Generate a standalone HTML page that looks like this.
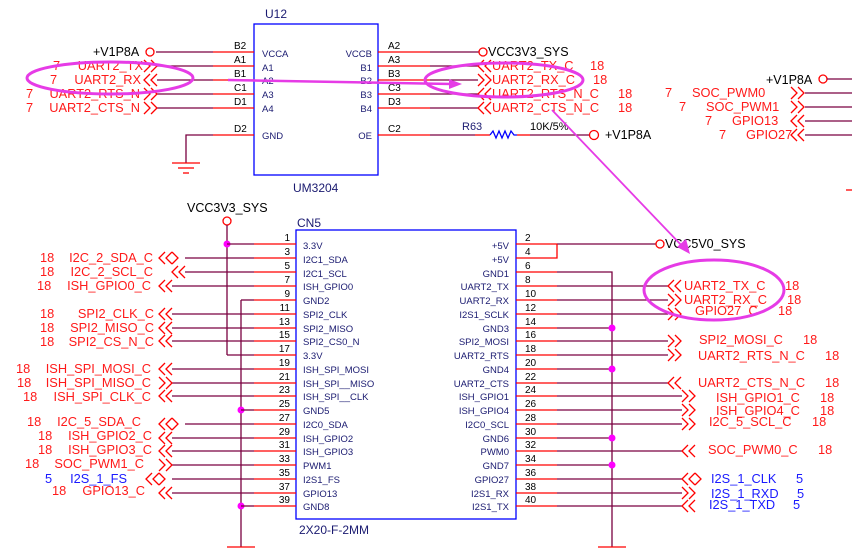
<!DOCTYPE html>
<html><head><meta charset="utf-8"><style>
html,body{margin:0;padding:0;background:#fff;width:852px;height:549px;overflow:hidden}
svg{display:block}
.w{stroke:#7a0040;stroke-width:1.3;fill:none}
.p{stroke:#ff0000;stroke-width:1.3;fill:none}
.c{stroke:#ff0000;stroke-width:1.3;fill:none}
.nr{fill:#ff1a1a;font-family:"Liberation Sans",sans-serif;font-size:12.8px}
.nb{fill:#1a1aff;font-family:"Liberation Sans",sans-serif;font-size:12.8px}
.k{fill:#000;font-family:"Liberation Sans",sans-serif;font-size:12.5px}
.pn{fill:#000;font-family:"Liberation Sans",sans-serif;font-size:10px}
.nm{fill:#1a1a70;font-family:"Liberation Sans",sans-serif;font-size:9.5px}
.bt{fill:#1a1a70;font-family:"Liberation Sans",sans-serif;font-size:12px}
.mg{stroke:#e63be6;fill:none}
</style></head><body>
<svg width="852" height="549" viewBox="0 0 852 549" xmlns="http://www.w3.org/2000/svg">
<defs>
<g id="L"><polyline class="c" points="6,-6 0,0 6,6"/><polyline class="c" points="13,-6 7,0 13,6"/></g>
<g id="R"><polyline class="c" points="0,-6 6,0 0,6"/><polyline class="c" points="7,-6 13,0 7,6"/></g>
<g id="B"><polyline class="c" points="6,-6 0,0 6,6"/><polyline class="c" points="13,-6 7,0 13,6"/><polyline class="c" points="13,-6 19,0 13,6"/></g>
</defs>

<!-- ===== U12 ===== -->
<text x="265" y="18" class="bt">U12</text>
<rect x="254" y="24" width="124" height="151" fill="none" stroke="#0000ff" stroke-width="1.3"/>
<text x="293" y="192" class="bt">UM3204</text>
<g>
<line class="w" x1="156" y1="52" x2="213" y2="52"/><line class="p" x1="213" y1="52" x2="254" y2="52"/>
<line class="w" x1="157" y1="66" x2="213" y2="66"/><line class="p" x1="213" y1="66" x2="254" y2="66"/>
<line class="w" x1="157" y1="80" x2="213" y2="80"/><line class="p" x1="213" y1="80" x2="254" y2="80"/>
<line class="w" x1="157" y1="94" x2="213" y2="94"/><line class="p" x1="213" y1="94" x2="254" y2="94"/>
<line class="w" x1="157" y1="108" x2="213" y2="108"/><line class="p" x1="213" y1="108" x2="254" y2="108"/>
<polyline class="w" points="186,163 186,135 213,135"/><line class="p" x1="213" y1="135" x2="254" y2="135"/>
<line class="p" x1="172" y1="163" x2="200" y2="163"/><line class="p" x1="178" y1="168" x2="194" y2="168"/><line class="p" x1="183" y1="173" x2="189" y2="173"/>
</g>
<text x="234" y="49" class="pn">B2</text><text x="234" y="63" class="pn">A1</text><text x="234" y="77" class="pn">B1</text>
<text x="234" y="91" class="pn">C1</text><text x="234" y="105" class="pn">D1</text><text x="234" y="132" class="pn">D2</text>
<text x="262" y="57" class="nm">VCCA</text><text x="262" y="71" class="nm">A1</text><text x="262" y="84" class="nm">A2</text>
<text x="262" y="98" class="nm">A3</text><text x="262" y="112" class="nm">A4</text><text x="262" y="139" class="nm">GND</text>
<text x="372" y="57" class="nm" text-anchor="end">VCCB</text><text x="372" y="71" class="nm" text-anchor="end">B1</text>
<text x="372" y="84" class="nm" text-anchor="end">B2</text><text x="372" y="98" class="nm" text-anchor="end">B3</text>
<text x="372" y="112" class="nm" text-anchor="end">B4</text><text x="372" y="139" class="nm" text-anchor="end">OE</text>
<text x="388" y="49" class="pn">A2</text><text x="388" y="63" class="pn">A3</text><text x="388" y="77" class="pn">B3</text>
<text x="388" y="91" class="pn">C3</text><text x="388" y="105" class="pn">D3</text><text x="388" y="132" class="pn">C2</text>
<line class="p" x1="378" y1="52" x2="430" y2="52"/><line class="w" x1="430" y1="52" x2="479" y2="52"/>
<line class="p" x1="378" y1="66" x2="430" y2="66"/><line class="w" x1="430" y1="66" x2="478" y2="66"/>
<line class="p" x1="378" y1="80" x2="430" y2="80"/><line class="w" x1="430" y1="80" x2="478" y2="80"/>
<line class="p" x1="378" y1="94" x2="430" y2="94"/><line class="w" x1="430" y1="94" x2="478" y2="94"/>
<line class="p" x1="378" y1="108" x2="430" y2="108"/><line class="w" x1="430" y1="108" x2="478" y2="108"/>
<line class="p" x1="378" y1="135" x2="430" y2="135"/><line class="w" x1="430" y1="135" x2="475" y2="135"/>
<line class="p" x1="475" y1="135" x2="490" y2="135"/>
<polyline points="490,135 493,131 496,138 499,131 502,138 505,131 508,138 511,131 514,135 517,135" fill="none" stroke="#0000ff" stroke-width="1.3"/>
<line class="p" x1="517" y1="135" x2="530" y2="135"/><line class="w" x1="530" y1="135" x2="589" y2="135"/>
<circle cx="594" cy="135" r="4.5" fill="none" stroke="#ff0000" stroke-width="1.3"/>
<text x="462" y="130" class="bt" style="font-size:11px">R63</text>
<text x="530" y="130" class="k" style="font-size:11px">10K/5%</text>
<text x="605" y="139" class="k">+V1P8A</text>
<circle cx="483" cy="52" r="4" fill="none" stroke="#ff0000" stroke-width="1.3"/>
<text x="488" y="56" class="k">VCC3V3_SYS</text>
<use href="#L" x="478" y="66"/><use href="#R" x="478" y="80"/><use href="#L" x="478" y="94"/><use href="#L" x="478" y="108"/>
<text x="492" y="70" class="nr">UART2_TX_C</text><text x="590" y="70" class="nr">18</text>
<text x="492" y="84" class="nr">UART2_RX_C</text><text x="593" y="84" class="nr">18</text>
<text x="492" y="98" class="nr">UART2_RTS_N_C</text><text x="618" y="98" class="nr">18</text>
<text x="492" y="112" class="nr">UART2_CTS_N_C</text><text x="618" y="112" class="nr">18</text>
<circle cx="150" cy="52" r="4" fill="none" stroke="#ff0000" stroke-width="1.3"/>
<text x="93" y="56" class="k">+V1P8A</text>
<use href="#R" x="144" y="66"/><use href="#L" x="144" y="80"/><use href="#R" x="144" y="94"/><use href="#R" x="144" y="108"/>
<text x="53" y="70" class="nr">7</text><text x="143" y="70" class="nr" text-anchor="end">UART2_TX</text>
<text x="50" y="84" class="nr">7</text><text x="141" y="84" class="nr" text-anchor="end">UART2_RX</text>
<text x="26" y="98" class="nr">7</text><text x="140" y="98" class="nr" text-anchor="end">UART2_RTS_N</text>
<text x="26" y="112" class="nr">7</text><text x="140" y="112" class="nr" text-anchor="end">UART2_CTS_N</text>
<text x="766" y="84" class="k">+V1P8A</text>
<circle cx="823" cy="79" r="4" fill="none" stroke="#ff0000" stroke-width="1.3"/>
<line class="w" x1="827" y1="79" x2="852" y2="79"/>
<use href="#R" x="791" y="93"/><use href="#R" x="791" y="107"/><use href="#L" x="791" y="121"/><use href="#L" x="791" y="135"/>
<line class="w" x1="805" y1="93" x2="852" y2="93"/><line class="w" x1="805" y1="107" x2="852" y2="107"/>
<line class="w" x1="805" y1="121" x2="852" y2="121"/><line class="w" x1="805" y1="135" x2="852" y2="135"/>
<text x="665" y="97" class="nr">7</text><text x="692" y="97" class="nr">SOC_PWM0</text>
<text x="679" y="111" class="nr">7</text><text x="706" y="111" class="nr">SOC_PWM1</text>
<text x="705" y="125" class="nr">7</text><text x="732" y="125" class="nr">GPIO13</text>
<text x="719" y="139" class="nr">7</text><text x="746" y="139" class="nr">GPIO27</text>
<line class="p" x1="846" y1="190" x2="852" y2="190"/>

<!-- ===== CN5 ===== -->
<text x="297" y="227" class="bt">CN5</text>
<rect x="296" y="230" width="220" height="289" fill="none" stroke="#0000ff" stroke-width="1.3"/>
<text x="299" y="534" class="bt">2X20-F-2MM</text>
<text x="187" y="212" class="k">VCC3V3_SYS</text>
<circle cx="227" cy="221" r="4" fill="none" stroke="#ff0000" stroke-width="1.3"/>
<line class="w" x1="227" y1="225" x2="227" y2="355"/>
<line class="w" x1="241" y1="300" x2="241" y2="547"/>
<line class="p" x1="227" y1="547" x2="255" y2="547"/>
<circle cx="227" cy="244" r="3.5" fill="#ff00ff"/><circle cx="241" cy="410" r="3.5" fill="#ff00ff"/><circle cx="241" cy="506" r="3.5" fill="#ff00ff"/>
<g>
<line class="w" x1="227" y1="244" x2="254" y2="244"/>
<line class="w" x1="185" y1="258" x2="254" y2="258"/>
<line class="w" x1="185" y1="272" x2="254" y2="272"/>
<line class="w" x1="172" y1="286" x2="254" y2="286"/>
<line class="w" x1="241" y1="300" x2="254" y2="300"/>
<line class="w" x1="172" y1="314" x2="254" y2="314"/>
<line class="w" x1="172" y1="328" x2="254" y2="328"/>
<line class="w" x1="172" y1="341" x2="254" y2="341"/>
<line class="w" x1="227" y1="355" x2="254" y2="355"/>
<line class="w" x1="172" y1="369" x2="254" y2="369"/>
<line class="w" x1="172" y1="383" x2="254" y2="383"/>
<line class="w" x1="172" y1="396" x2="254" y2="396"/>
<line class="w" x1="241" y1="410" x2="254" y2="410"/>
<line class="w" x1="185" y1="424" x2="254" y2="424"/>
<line class="w" x1="172" y1="438" x2="254" y2="438"/>
<line class="w" x1="172" y1="451" x2="254" y2="451"/>
<line class="w" x1="172" y1="465" x2="254" y2="465"/>
<line class="w" x1="172" y1="479" x2="254" y2="479"/>
<line class="w" x1="172" y1="493" x2="254" y2="493"/>
<line class="w" x1="241" y1="506" x2="254" y2="506"/>
</g>
<g>
<line class="p" x1="254" y1="244" x2="296" y2="244"/><line class="p" x1="254" y1="258" x2="296" y2="258"/>
<line class="p" x1="254" y1="272" x2="296" y2="272"/><line class="p" x1="254" y1="286" x2="296" y2="286"/>
<line class="p" x1="254" y1="300" x2="296" y2="300"/><line class="p" x1="254" y1="314" x2="296" y2="314"/>
<line class="p" x1="254" y1="328" x2="296" y2="328"/><line class="p" x1="254" y1="341" x2="296" y2="341"/>
<line class="p" x1="254" y1="355" x2="296" y2="355"/><line class="p" x1="254" y1="369" x2="296" y2="369"/>
<line class="p" x1="254" y1="383" x2="296" y2="383"/><line class="p" x1="254" y1="396" x2="296" y2="396"/>
<line class="p" x1="254" y1="410" x2="296" y2="410"/><line class="p" x1="254" y1="424" x2="296" y2="424"/>
<line class="p" x1="254" y1="438" x2="296" y2="438"/><line class="p" x1="254" y1="451" x2="296" y2="451"/>
<line class="p" x1="254" y1="465" x2="296" y2="465"/><line class="p" x1="254" y1="479" x2="296" y2="479"/>
<line class="p" x1="254" y1="493" x2="296" y2="493"/><line class="p" x1="254" y1="506" x2="296" y2="506"/>
</g>
<g class="pn" text-anchor="end">
<text x="290" y="241">1</text><text x="290" y="255">3</text><text x="290" y="269">5</text><text x="290" y="283">7</text>
<text x="290" y="297">9</text><text x="290" y="311">11</text><text x="290" y="325">13</text><text x="290" y="338">15</text>
<text x="290" y="352">17</text><text x="290" y="366">19</text><text x="290" y="380">21</text><text x="290" y="393">23</text>
<text x="290" y="407">25</text><text x="290" y="421">27</text><text x="290" y="435">29</text><text x="290" y="448">31</text>
<text x="290" y="462">33</text><text x="290" y="476">35</text><text x="290" y="490">37</text><text x="290" y="503">39</text>
</g>
<g class="nm">
<text x="303" y="249">3.3V</text><text x="303" y="263">I2C1_SDA</text><text x="303" y="277">I2C1_SCL</text><text x="303" y="290">ISH_GPIO0</text>
<text x="303" y="304">GND2</text><text x="303" y="318">SPI2_CLK</text><text x="303" y="332">SPI2_MISO</text><text x="303" y="345">SPI2_CS0_N</text>
<text x="303" y="359">3.3V</text><text x="303" y="373">ISH_SPI_MOSI</text><text x="303" y="387">ISH_SPI__MISO</text><text x="303" y="400">ISH_SPI__CLK</text>
<text x="303" y="414">GND5</text><text x="303" y="428">I2C0_SDA</text><text x="303" y="442">ISH_GPIO2</text><text x="303" y="455">ISH_GPIO3</text>
<text x="303" y="469">PWM1</text><text x="303" y="483">I2S1_FS</text><text x="303" y="497">GPIO13</text><text x="303" y="510">GND8</text>
</g>
<use href="#B" x="159" y="258"/><use href="#L" x="172" y="272"/><use href="#L" x="159" y="286"/>
<use href="#L" x="159" y="314"/><use href="#L" x="159" y="328"/><use href="#L" x="159" y="341"/>
<use href="#L" x="159" y="369"/><use href="#R" x="159" y="383"/><use href="#L" x="159" y="396"/>
<use href="#B" x="159" y="424"/><use href="#L" x="159" y="438"/><use href="#L" x="159" y="451"/>
<use href="#R" x="159" y="465"/><use href="#B" x="146" y="479"/><use href="#L" x="159" y="493"/>
<text x="40" y="262" class="nr">18</text><text x="153" y="262" class="nr" text-anchor="end">I2C_2_SDA_C</text>
<text x="40" y="276" class="nr">18</text><text x="153" y="276" class="nr" text-anchor="end">I2C_2_SCL_C</text>
<text x="37" y="290" class="nr">18</text><text x="151" y="290" class="nr" text-anchor="end">ISH_GPIO0_C</text>
<text x="40" y="318" class="nr">18</text><text x="154" y="318" class="nr" text-anchor="end">SPI2_CLK_C</text>
<text x="40" y="332" class="nr">18</text><text x="154" y="332" class="nr" text-anchor="end">SPI2_MISO_C</text>
<text x="40" y="346" class="nr">18</text><text x="154" y="346" class="nr" text-anchor="end">SPI2_CS_N_C</text>
<text x="16" y="373" class="nr">18</text><text x="151" y="373" class="nr" text-anchor="end">ISH_SPI_MOSI_C</text>
<text x="17" y="387" class="nr">18</text><text x="151" y="387" class="nr" text-anchor="end">ISH_SPI_MISO_C</text>
<text x="23" y="401" class="nr">18</text><text x="151" y="401" class="nr" text-anchor="end">ISH_SPI_CLK_C</text>
<text x="27" y="426" class="nr">18</text><text x="141" y="426" class="nr" text-anchor="end">I2C_5_SDA_C</text>
<text x="38" y="440" class="nr">18</text><text x="152" y="440" class="nr" text-anchor="end">ISH_GPIO2_C</text>
<text x="38" y="454" class="nr">18</text><text x="152" y="454" class="nr" text-anchor="end">ISH_GPIO3_C</text>
<text x="25" y="468" class="nr">18</text><text x="144" y="468" class="nr" text-anchor="end">SOC_PWM1_C</text>
<text x="45" y="483" class="nb">5</text><text x="127" y="483" class="nb" text-anchor="end">I2S_1_FS</text>
<text x="52" y="495" class="nr">18</text><text x="145" y="495" class="nr" text-anchor="end">GPIO13_C</text>

<g>
<line class="p" x1="516" y1="244" x2="557" y2="244"/><line class="w" x1="557" y1="244" x2="656" y2="244"/>
<polyline class="p" points="516,258 557,258 557,244"/>
<line class="p" x1="516" y1="272" x2="557" y2="272"/><polyline class="w" points="557,272 612,272 612,547"/>
<line class="p" x1="598" y1="547" x2="626" y2="547"/>
<circle cx="660" cy="244" r="4" fill="none" stroke="#ff0000" stroke-width="1.3"/>
<text x="665" y="248" class="k">VCC5V0_SYS</text>
</g>
<g>
<line class="p" x1="516" y1="286" x2="557" y2="286"/><line class="w" x1="557" y1="286" x2="668" y2="286"/>
<line class="p" x1="516" y1="300" x2="557" y2="300"/><line class="w" x1="557" y1="300" x2="668" y2="300"/>
<line class="p" x1="516" y1="314" x2="557" y2="314"/><line class="w" x1="557" y1="314" x2="668" y2="314"/>
<line class="p" x1="516" y1="328" x2="557" y2="328"/><line class="w" x1="557" y1="328" x2="612" y2="328"/>
<line class="p" x1="516" y1="341" x2="557" y2="341"/><line class="w" x1="557" y1="341" x2="668" y2="341"/>
<line class="p" x1="516" y1="355" x2="557" y2="355"/><line class="w" x1="557" y1="355" x2="668" y2="355"/>
<line class="p" x1="516" y1="369" x2="557" y2="369"/><line class="w" x1="557" y1="369" x2="612" y2="369"/>
<line class="p" x1="516" y1="383" x2="557" y2="383"/><line class="w" x1="557" y1="383" x2="668" y2="383"/>
<line class="p" x1="516" y1="396" x2="557" y2="396"/><line class="w" x1="557" y1="396" x2="682" y2="396"/>
<line class="p" x1="516" y1="410" x2="557" y2="410"/><line class="w" x1="557" y1="410" x2="682" y2="410"/>
<line class="p" x1="516" y1="424" x2="557" y2="424"/><line class="w" x1="557" y1="424" x2="682" y2="424"/>
<line class="p" x1="516" y1="438" x2="557" y2="438"/><line class="w" x1="557" y1="438" x2="612" y2="438"/>
<line class="p" x1="516" y1="451" x2="557" y2="451"/><line class="w" x1="557" y1="451" x2="682" y2="451"/>
<line class="p" x1="516" y1="465" x2="557" y2="465"/><line class="w" x1="557" y1="465" x2="612" y2="465"/>
<line class="p" x1="516" y1="479" x2="557" y2="479"/><line class="w" x1="557" y1="479" x2="682" y2="479"/>
<line class="p" x1="516" y1="493" x2="557" y2="493"/><line class="w" x1="557" y1="493" x2="682" y2="493"/>
<line class="p" x1="516" y1="506" x2="557" y2="506"/><line class="w" x1="557" y1="506" x2="682" y2="506"/>
</g>
<circle cx="612" cy="328" r="3.5" fill="#ff00ff"/><circle cx="612" cy="369" r="3.5" fill="#ff00ff"/>
<circle cx="612" cy="438" r="3.5" fill="#ff00ff"/><circle cx="612" cy="465" r="3.5" fill="#ff00ff"/>
<g class="pn">
<text x="525" y="241">2</text><text x="525" y="255">4</text><text x="525" y="269">6</text><text x="525" y="283">8</text>
<text x="525" y="297">10</text><text x="525" y="311">12</text><text x="525" y="325">14</text><text x="525" y="338">16</text>
<text x="525" y="352">18</text><text x="525" y="366">20</text><text x="525" y="380">22</text><text x="525" y="393">24</text>
<text x="525" y="407">26</text><text x="525" y="421">28</text><text x="525" y="435">30</text><text x="525" y="448">32</text>
<text x="525" y="462">34</text><text x="525" y="476">36</text><text x="525" y="490">38</text><text x="525" y="503">40</text>
</g>
<g class="nm" text-anchor="end">
<text x="509" y="249">+5V</text><text x="509" y="263">+5V</text><text x="509" y="277">GND1</text><text x="509" y="290">UART2_TX</text>
<text x="509" y="304">UART2_RX</text><text x="509" y="318">I2S1_SCLK</text><text x="509" y="332">GND3</text><text x="509" y="345">SPI2_MOSI</text>
<text x="509" y="359">UART2_RTS</text><text x="509" y="373">GND4</text><text x="509" y="387">UART2_CTS</text><text x="509" y="400">ISH_GPIO1</text>
<text x="509" y="414">ISH_GPIO4</text><text x="509" y="428">I2C0_SCL</text><text x="509" y="442">GND6</text><text x="509" y="455">PWM0</text>
<text x="509" y="469">GND7</text><text x="509" y="483">GPIO27</text><text x="509" y="497">I2S1_RX</text><text x="509" y="510">I2S1_TX</text>
</g>
<use href="#L" x="668" y="286"/><use href="#R" x="668" y="300"/><use href="#R" x="668" y="314"/>
<use href="#R" x="668" y="341"/><use href="#R" x="668" y="355"/><use href="#L" x="668" y="383"/>
<use href="#R" x="682" y="396"/><use href="#R" x="682" y="410"/><use href="#R" x="682" y="424"/>
<use href="#L" x="682" y="451"/><use href="#B" x="682" y="479"/><use href="#R" x="682" y="493"/><use href="#L" x="682" y="506"/>
<text x="684" y="290" class="nr">UART2_TX_C</text><text x="785" y="290" class="nr">18</text>
<text x="684" y="304" class="nr">UART2_RX_C</text><text x="787" y="304" class="nr">18</text>
<text x="695" y="315" class="nr">GPIO27_C</text><text x="778" y="315" class="nr">18</text>
<text x="699" y="344" class="nr">SPI2_MOSI_C</text><text x="803" y="344" class="nr">18</text>
<text x="698" y="360" class="nr">UART2_RTS_N_C</text><text x="825" y="360" class="nr">18</text>
<text x="698" y="387" class="nr">UART2_CTS_N_C</text><text x="825" y="387" class="nr">18</text>
<text x="716" y="402" class="nr">ISH_GPIO1_C</text><text x="820" y="402" class="nr">18</text>
<text x="716" y="415" class="nr">ISH_GPIO4_C</text><text x="820" y="415" class="nr">18</text>
<text x="709" y="426" class="nr">I2C_5_SCL_C</text><text x="812" y="426" class="nr">18</text>
<text x="708" y="454" class="nr">SOC_PWM0_C</text><text x="818" y="454" class="nr">18</text>
<text x="711" y="483" class="nb">I2S_1_CLK</text><text x="796" y="483" class="nb">5</text>
<text x="711" y="498" class="nb">I2S_1_RXD</text><text x="797" y="498" class="nb">5</text>
<text x="709" y="509" class="nb">I2S_1_TXD</text><text x="793" y="509" class="nb">5</text>

<ellipse cx="110" cy="78" rx="83" ry="16" class="mg" stroke-width="3"/>
<line x1="228" y1="80" x2="452" y2="84" class="mg" stroke-width="2.5"/>
<polygon points="462,84 449,79 449,89" fill="#e63be6"/>
<ellipse cx="504" cy="80" rx="79" ry="17" class="mg" stroke-width="3"/>
<line x1="552" y1="110" x2="684" y2="248" class="mg" stroke-width="1.8"/>
<polygon points="690,254 677,247 686,239" fill="#e63be6"/>
<ellipse cx="714" cy="290" rx="70" ry="30" class="mg" stroke-width="3"/>
</svg>
</body></html>
